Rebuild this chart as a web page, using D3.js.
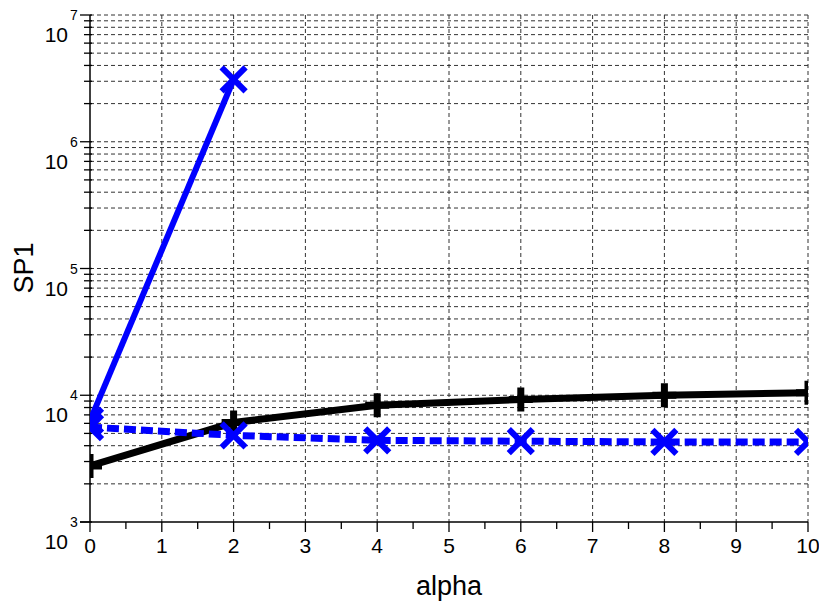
<!DOCTYPE html>
<html><head><meta charset="utf-8">
<script src="https://cdn.jsdelivr.net/npm/d3@7"></script>
<style>body{margin:0;background:#fff}svg{display:block}text{font-family:"Liberation Sans",Arial,sans-serif;fill:#000}</style>
</head><body><svg id="c" width="819" height="601"></svg>
<script>
const alpha = [0, 2, 4, 6, 8, 10];
const blackSeries = [2770, 6090, 8340, 9250, 10000, 10470];
const blueDashed = [5600, 4830, 4410, 4340, 4280, 4280];
const blueSolidX = [0, 2];
const blueSolid = [6300, 3100000];
const xTicks = [0,1,2,3,4,5,6,7,8,9,10];
const yDecades = [3,4,5,6,7];

const svg = d3.select("#c");
const L=90, R=808, T=15, B=522;
const x = d3.scaleLinear().domain([0,10]).range([L,R]);
const y = d3.scaleLog().domain([1e3,1e7]).range([B,T]);

// grid
const grid = svg.append("g").attr("stroke","#333").attr("stroke-width",1).attr("stroke-dasharray","4,3").attr("fill","none");
const minorY = [];
for (let d=3; d<7; d++) for (let m=1; m<10; m++) minorY.push(m*Math.pow(10,d));
minorY.push(1e7);
minorY.filter(v=>v>1e3).forEach(v=>{
  grid.append("line").attr("x1",L).attr("x2",R).attr("y1",y(v)).attr("y2",y(v));
});
xTicks.filter(v=>v>0).forEach(v=>{
  grid.append("line").attr("x1",x(v)).attr("x2",x(v)).attr("y1",T).attr("y2",B);
});

// axes
const ax = svg.append("g").attr("stroke","#000").attr("stroke-width",1.5);
ax.append("line").attr("x1",L).attr("x2",L).attr("y1",T).attr("y2",B);
ax.append("line").attr("x1",L).attr("x2",R).attr("y1",B).attr("y2",B);
minorY.forEach(v=>{
  const isMajor = Math.abs(Math.log10(v)-Math.round(Math.log10(v)))<1e-9;
  ax.append("line").attr("x1",isMajor?L-10:L-6).attr("x2",L+2).attr("y1",y(v)).attr("y2",y(v)).attr("stroke-width",1.3);
});
ax.append("line").attr("x1",L-10).attr("x2",L).attr("y1",B).attr("y2",B);
d3.range(0,10.01,0.5).forEach(v=>{
  const isMajor = Math.abs(v-Math.round(v))<1e-9;
  ax.append("line").attr("x1",x(v)).attr("x2",x(v)).attr("y1",B).attr("y2",B+(isMajor?10:7)).attr("stroke-width",1.3);
});

// tick labels
xTicks.forEach(v=>{
  svg.append("text").attr("x",x(v)).attr("y",B+31).attr("text-anchor","middle").attr("font-size",21).text(v);
});
yDecades.forEach(d=>{
  const yy = y(Math.pow(10,d));
  svg.append("text").attr("x",68).attr("y",yy+27).attr("text-anchor","end").attr("font-size",21).text("10");
  svg.append("text").attr("x",70).attr("y",yy+5).attr("text-anchor","start").attr("font-size",14).text(d);
});

// axis titles
svg.append("text").attr("x",449).attr("y",595).attr("text-anchor","middle").attr("font-size",27).text("alpha");
svg.append("text").attr("transform","translate(33,268) rotate(-90)").attr("text-anchor","middle").attr("font-size",27).text("SP1");

// data
svg.append("defs").append("clipPath").attr("id","clip").append("rect").attr("x",L).attr("y",T).attr("width",R-L).attr("height",B-T);
const plot = svg.append("g").attr("clip-path","url(#clip)");
const line = d3.line().x(d=>x(d[0])).y(d=>y(d[1]));

plot.append("path").datum(alpha.map((a,i)=>[a,blackSeries[i]])).attr("d",line)
  .attr("fill","none").attr("stroke","#000").attr("stroke-width",7);
plot.append("path").datum(alpha.map((a,i)=>[a,blueDashed[i]])).attr("d",line)
  .attr("fill","none").attr("stroke","#0000ff").attr("stroke-width",7).attr("stroke-dasharray","12,5");
plot.append("path").datum(blueSolidX.map((a,i)=>[a,blueSolid[i]])).attr("d",line)
  .attr("fill","none").attr("stroke","#0000ff").attr("stroke-width",6);

// markers
alpha.forEach((a,i)=>{
  const cx=x(a), cy=y(blackSeries[i]);
  plot.append("path").attr("d",`M${cx-12},${cy}H${cx+12}M${cx},${cy-12}V${cy+12}`)
    .attr("stroke","#000").attr("stroke-width",7).attr("fill","none");
});
const xm = (cx,cy)=>`M${cx-12},${cy-12}L${cx+12},${cy+12}M${cx-12},${cy+12}L${cx+12},${cy-12}`;
alpha.forEach((a,i)=>{
  plot.append("path").attr("d",xm(x(a),y(blueDashed[i]))).attr("stroke","#0000ff").attr("stroke-width",6).attr("fill","none");
});
blueSolidX.forEach((a,i)=>{
  plot.append("path").attr("d",xm(x(a),y(blueSolid[i]))).attr("stroke","#0000ff").attr("stroke-width",6).attr("fill","none");
});
</script></body></html>
